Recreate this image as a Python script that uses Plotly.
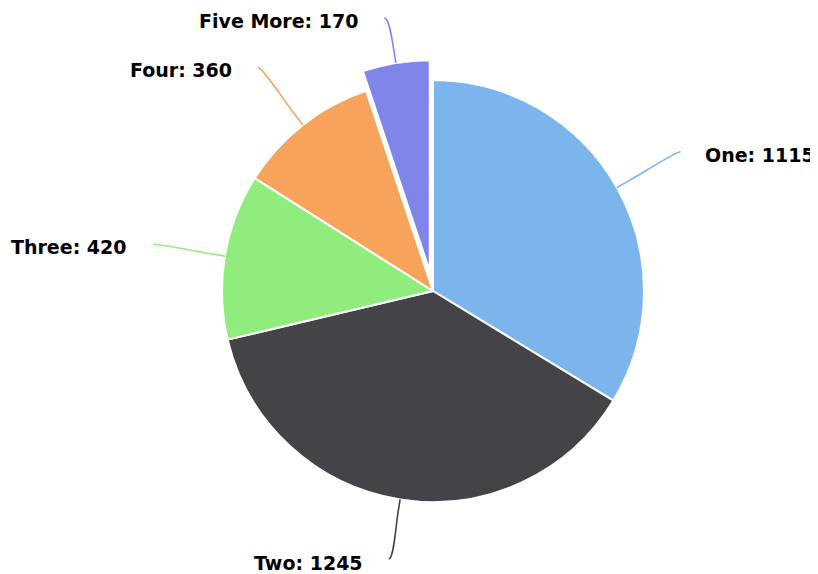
import math
import plotly.graph_objects as go

labels = ["One", "Two", "Three", "Four", "Five More"]
values = [1115, 1245, 420, 360, 170]
colors = ["#7cb5ec", "#434348", "#90ed7d", "#f7a35c", "#8085e9"]
pulls = [0, 0, 0, 0, 0.095]

OFF = 8.0               # page body margin in the browser
W, H = 818 - OFF, 574 - OFF
cx, cy = 433.0 - OFF, 291.0 - OFF   # pie centre in figure pixels
R = 211.0               # pie radius in pixels
maxpull = max(pulls)
D = 2 * R * (1 + maxpull)
dom_x = [(cx - D / 2) / W, (cx + D / 2) / W]
dom_y = [1 - (cy + D / 2) / H, 1 - (cy - D / 2) / H]


def px(x):
    return x / W


def py(y):
    return 1 - y / H


fig = go.Figure(go.Pie(
    labels=labels, values=values, sort=False, direction="clockwise", rotation=0,
    marker=dict(colors=colors, line=dict(color="#ffffff", width=2)),
    pull=pulls, textinfo="none", hoverinfo="label+value",
    domain=dict(x=dom_x, y=dom_y), showlegend=False,
))

total = sum(values)
cum = 0
annotations = []
shapes = []
RL = 284.0
GAP_R, GAP_L = 22.0, 24.0
ymin, ymax = 18.0 - OFF, 559.0 - OFF
for lab, val, col, pl in zip(labels, values, colors, pulls):
    mid = (cum + val / 2) / total * 2 * math.pi
    cum += val
    s, c = math.sin(mid), -math.cos(mid)
    ox, oy = cx + pl * R * s, cy + pl * R * c
    tx, ty = ox + R * s, oy + R * c            # touching slice
    bx, by = ox + (R + 14) * s, oy + (R + 14) * c  # break point
    lx, ly = ox + RL * s, oy + RL * c          # label point
    ly = min(max(ly, ymin), ymax)
    right = s > 0
    path = (f"M {px(lx)},{py(ly)} C {px(lx + (-5 if right else 5))},{py(ly)} "
            f"{px(2 * bx - tx)},{py(2 * by - ty)} {px(bx)},{py(by)} L {px(tx)},{py(ty)}")
    shapes.append(dict(type="path", path=path, xref="paper", yref="paper",
                       line=dict(color=col, width=1.6)))
    tyc = ly + (4 if ly >= ymax else 3)
    annotations.append(dict(
        x=px(lx + GAP_R if right else lx - GAP_L), y=py(tyc), xref="paper", yref="paper",
        xanchor="left" if right else "right", yanchor="middle", showarrow=False,
        text=f"{lab}: {val}",
        font=dict(family="DejaVu Sans", size=19, color="#000000", weight="bold"),
    ))

fig.update_layout(
    width=W, height=H, margin=dict(l=0, r=0, t=0, b=0),
    paper_bgcolor="#ffffff", plot_bgcolor="#ffffff",
    annotations=annotations, shapes=shapes,
)
fig.write_html("out.html")
